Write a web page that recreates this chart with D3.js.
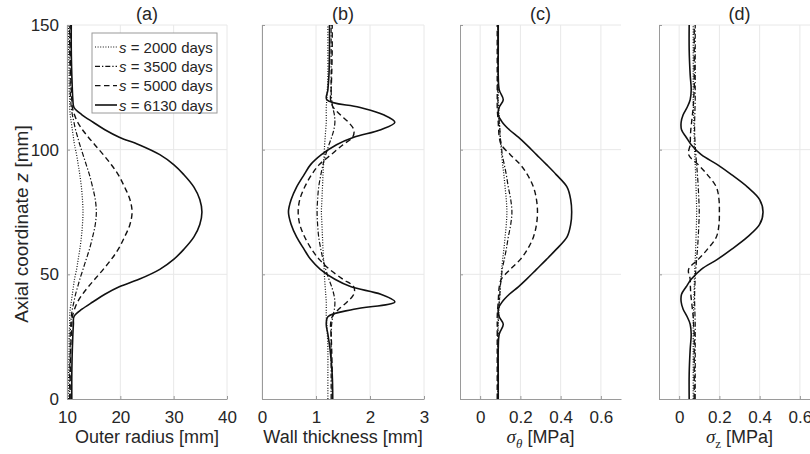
<!DOCTYPE html>
<html>
<head>
<meta charset="utf-8">
<script src="https://cdn.jsdelivr.net/npm/d3@7"></script>
<style>
  html, body { margin: 0; padding: 0; background: #fff; }
  svg { display: block; font-family: "Liberation Sans", Arial, Helvetica, sans-serif; }
</style>
</head>
<body>
<svg id="chart" width="810" height="454"></svg>
<script>
// ---------------- data ----------------
const zPts = [0,10,20,26,30,33,36,39,42,45,48,52,56,60,65,70,75,80,85,90,94,98,102,105,108,111,114,117,120,124,130,140,150];

const seriesNames = ["2000", "3500", "5000", "6130"];

// (a) outer radius [mm]
const radius2000 = [10.3,10.3,10.4,10.4,10.5,10.5,10.6,10.8,11.0,11.2,11.4,11.8,12.1,12.4,12.7,12.9,13.0,12.9,12.7,12.4,12.1,11.8,11.4,11.2,11.0,10.8,10.6,10.5,10.5,10.4,10.4,10.3,10.3];
const radius3500 = [10.5,10.5,10.6,10.6,10.7,10.8,11.0,11.3,11.6,12.0,12.4,13.0,13.6,14.2,14.8,15.3,15.5,15.3,14.8,14.2,13.6,13.0,12.4,12.0,11.6,11.3,11.0,10.8,10.7,10.6,10.6,10.5,10.5];
const radius5000 = [10.6,10.6,10.7,10.8,10.9,11.0,11.4,12.0,12.9,14.0,15.2,16.8,18.3,19.6,20.8,21.8,22.2,21.8,20.8,19.6,18.3,16.8,15.2,14.0,12.9,12.0,11.4,11.0,10.9,10.8,10.7,10.6,10.6];
const radius6130 = [10.9,10.9,11.0,11.1,11.2,11.3,12.8,14.9,17.1,19.8,23.5,27.4,30.0,31.9,33.8,34.9,35.3,34.9,33.8,31.9,30.0,27.4,23.5,19.8,17.1,14.9,12.8,11.3,11.1,11.0,10.9,10.8,10.8];

// (b) wall thickness [mm]
const thick2000 = [1.22,1.22,1.22,1.21,1.20,1.19,1.19,1.19,1.18,1.17,1.16,1.15,1.14,1.13,1.12,1.11,1.10,1.11,1.12,1.13,1.14,1.15,1.16,1.17,1.18,1.19,1.19,1.19,1.20,1.21,1.22,1.22,1.22];
const thick3500 = [1.28,1.28,1.28,1.28,1.29,1.31,1.34,1.35,1.33,1.29,1.24,1.18,1.13,1.09,1.05,1.03,1.02,1.03,1.05,1.09,1.13,1.18,1.24,1.29,1.33,1.35,1.34,1.31,1.29,1.28,1.28,1.28,1.28];
const thick5000 = [1.30,1.30,1.29,1.28,1.27,1.30,1.42,1.58,1.70,1.70,1.50,1.25,1.06,0.92,0.79,0.70,0.67,0.70,0.79,0.92,1.06,1.28,1.50,1.68,1.70,1.60,1.45,1.32,1.27,1.28,1.29,1.30,1.30];
const thick6130 = [1.31,1.30,1.26,1.22,1.19,1.22,1.70,2.46,2.20,1.65,1.35,1.08,0.90,0.78,0.64,0.54,0.49,0.54,0.64,0.78,0.90,1.10,1.38,1.70,2.20,2.46,2.25,1.80,1.20,1.22,1.24,1.25,1.25];

// (c) sigma_theta [MPa]
const sigT2000 = [0.09,0.09,0.09,0.09,0.09,0.092,0.094,0.096,0.098,0.10,0.103,0.107,0.112,0.118,0.124,0.13,0.133,0.13,0.124,0.118,0.112,0.107,0.103,0.10,0.098,0.096,0.094,0.092,0.09,0.09,0.09,0.09,0.09];
const sigT3500 = [0.088,0.088,0.088,0.088,0.088,0.09,0.092,0.095,0.098,0.10,0.105,0.11,0.12,0.13,0.14,0.152,0.158,0.152,0.14,0.13,0.12,0.11,0.105,0.10,0.098,0.095,0.092,0.09,0.088,0.088,0.088,0.088,0.088];
const sigT5000 = [0.085,0.085,0.085,0.085,0.085,0.085,0.087,0.09,0.092,0.095,0.105,0.15,0.20,0.235,0.265,0.28,0.285,0.28,0.265,0.235,0.20,0.15,0.105,0.095,0.092,0.09,0.087,0.085,0.085,0.085,0.085,0.085,0.085];
const sigT6130 = [0.09,0.09,0.09,0.095,0.115,0.095,0.09,0.11,0.145,0.19,0.23,0.28,0.33,0.378,0.432,0.45,0.455,0.45,0.432,0.378,0.33,0.28,0.23,0.19,0.145,0.11,0.09,0.095,0.115,0.095,0.09,0.09,0.09];

// (d) sigma_z [MPa]
const sigZ2000 = [0.07,0.07,0.07,0.07,0.07,0.071,0.072,0.073,0.074,0.075,0.076,0.078,0.08,0.082,0.084,0.086,0.087,0.086,0.084,0.082,0.08,0.078,0.076,0.075,0.074,0.073,0.072,0.071,0.07,0.07,0.07,0.07,0.07];
const sigZ3500 = [0.08,0.08,0.08,0.08,0.08,0.079,0.078,0.077,0.077,0.078,0.08,0.083,0.087,0.091,0.095,0.098,0.10,0.098,0.095,0.091,0.087,0.083,0.08,0.078,0.077,0.077,0.078,0.079,0.08,0.08,0.08,0.08,0.08];
const sigZ5000 = [0.075,0.075,0.075,0.075,0.072,0.07,0.066,0.062,0.058,0.056,0.055,0.047,0.095,0.14,0.185,0.198,0.20,0.198,0.185,0.14,0.095,0.047,0.055,0.056,0.058,0.062,0.066,0.07,0.072,0.075,0.075,0.075,0.075];
const sigZ6130 = [0.05,0.05,0.055,0.06,0.055,0.04,0.02,0.01,0.012,0.035,0.06,0.11,0.19,0.26,0.34,0.40,0.417,0.40,0.34,0.26,0.19,0.11,0.06,0.035,0.012,0.01,0.02,0.04,0.055,0.06,0.055,0.05,0.05];

// tick values
const yTicks = [0, 50, 100, 150];
const xTicksA = [10, 20, 30, 40];
const xTicksB = [0, 1, 2, 3];
const xTicksC = [0, 0.2, 0.4, 0.6];
const xTicksD = [0, 0.2, 0.4, 0.6];

// ---------------- styles ----------------
const dashFor = {
  "2000": "1,1.6",
  "3500": "5,2,1.3,2",
  "5000": "5.5,3.5",
  "6130": null
};
const widthFor = { "2000": 1.2, "3500": 1.2, "5000": 1.4, "6130": 1.6 };

const svg = d3.select("#chart");
const axisColor = "#9a9a9a";
const gridColor = "#e8e8e8";
const textColor = "#262626";

const yTop = 25, yBot = 399;
const y = d3.scaleLinear().domain([0, 150]).range([yBot, yTop]);

const panels = [
  { id: "a", title: "(a)", domain: [10, 40], range: [67, 227], ticks: xTicksA, fmt: d3.format("d"),
    data: [radius2000, radius3500, radius5000, radius6130], showY: true, label: "Outer radius [mm]" },
  { id: "b", title: "(b)", domain: [0, 3], range: [262, 424], ticks: xTicksB, fmt: d3.format("d"),
    data: [thick2000, thick3500, thick5000, thick6130], showY: false, label: "Wall thickness [mm]" },
  { id: "c", title: "(c)", domain: [-0.1, 0.7], range: [460, 621], ticks: xTicksC, fmt: v => v === 0 ? "0" : d3.format(".1f")(v),
    data: [sigT2000, sigT3500, sigT5000, sigT6130], showY: false, label: "sigma", sub: "θ" },
  { id: "d", title: "(d)", domain: [-0.1, 0.7], range: [659, 820], ticks: xTicksD, fmt: v => v === 0 ? "0" : d3.format(".1f")(v),
    data: [sigZ2000, sigZ3500, sigZ5000, sigZ6130], showY: false, label: "sigma", sub: "z" }
];

panels.forEach(p => {
  const x = d3.scaleLinear().domain(p.domain).range(p.range);
  const g = svg.append("g");

  // grid
  g.append("g").selectAll("line.gx").data(p.ticks).join("line")
    .attr("x1", d => x(d)).attr("x2", d => x(d))
    .attr("y1", yBot).attr("y2", yTop)
    .attr("stroke", gridColor).attr("stroke-width", 1);
  g.append("g").selectAll("line.gy").data(yTicks.filter(v => v > 0)).join("line")
    .attr("x1", p.range[0]).attr("x2", p.range[1])
    .attr("y1", d => y(d)).attr("y2", d => y(d))
    .attr("stroke", gridColor).attr("stroke-width", 1);

  // data lines
  const line = d3.line()
    .x(d => x(d[1]))
    .y(d => y(d[0]))
    .curve(d3.curveCatmullRom.alpha(0.5));
  p.data.forEach((vals, i) => {
    const name = seriesNames[i];
    const pts = zPts.map((z, k) => [z, vals[k]]);
    g.append("path")
      .attr("d", line(pts))
      .attr("fill", "none")
      .attr("stroke", "#111")
      .attr("stroke-width", widthFor[name])
      .attr("stroke-dasharray", dashFor[name]);
  });

  // x axis
  const xAxis = d3.axisBottom(x).tickValues(p.ticks).tickSizeInner(-3).tickSizeOuter(0)
    .tickPadding(0).tickFormat(p.fmt);
  const gx = g.append("g").attr("transform", `translate(0,${yBot})`).call(xAxis);
  gx.select(".domain").attr("stroke", axisColor);
  gx.selectAll(".tick line").attr("stroke", axisColor);
  gx.selectAll(".tick text")
    .attr("fill", textColor).attr("font-size", 17)
    .attr("dy", null).attr("y", 24)
    .attr("font-family", '"Liberation Sans", Arial, sans-serif');

  // y axis
  const yAxis = d3.axisLeft(y).tickValues(yTicks).tickSizeInner(-3).tickSizeOuter(0)
    .tickPadding(8).tickFormat(p.showY ? d3.format("d") : () => "");
  const gy = g.append("g").attr("transform", `translate(${p.range[0]},0)`).call(yAxis);
  gy.select(".domain").attr("stroke", axisColor);
  gy.selectAll(".tick line").attr("stroke", axisColor);
  gy.selectAll(".tick text")
    .attr("fill", textColor).attr("font-size", 17)
    .attr("font-family", '"Liberation Sans", Arial, sans-serif');

  // title
  g.append("text")
    .attr("x", (p.range[0] + p.range[1]) / 2).attr("y", 20)
    .attr("text-anchor", "middle").attr("font-size", 18).attr("fill", textColor)
    .text(p.title);

  // x label
  const cx = (p.range[0] + p.range[1]) / 2;
  const lab = g.append("text")
    .attr("x", cx).attr("y", 443)
    .attr("text-anchor", "middle").attr("font-size", 18).attr("fill", textColor);
  if (p.label === "sigma") {
    lab.append("tspan").attr("font-family", '"Liberation Serif", "DejaVu Serif", serif')
      .attr("font-style", "italic").attr("font-size", 19).text("σ");
    lab.append("tspan").attr("font-family", '"Liberation Serif", "DejaVu Serif", serif')
      .attr("font-style", p.sub === "θ" ? "italic" : "normal").attr("font-size", 13)
      .attr("dy", 5).text(p.sub);
    lab.append("tspan").attr("dy", -5).text(" [MPa]");
  } else {
    lab.text(p.label);
  }
});

// y label
const yl = svg.append("text")
  .attr("transform", "translate(28,224) rotate(-90)")
  .attr("text-anchor", "middle").attr("font-size", 19).attr("fill", textColor);
yl.append("tspan").text("Axial coordinate ");
yl.append("tspan").attr("font-style", "italic").text("z");
yl.append("tspan").text(" [mm]");

// legend
const legX = 92, legY = 33, legW = 125, legH = 80;
const leg = svg.append("g");
leg.append("rect").attr("x", legX).attr("y", legY).attr("width", legW).attr("height", legH)
  .attr("fill", "#fff").attr("stroke", axisColor).attr("stroke-width", 1);
const legRowY = d3.scalePoint().domain(seriesNames).range([47, 105]);
seriesNames.forEach(name => {
  const yy = legRowY(name);
  leg.append("line").attr("x1", 95).attr("x2", 117).attr("y1", yy).attr("y2", yy)
    .attr("stroke", "#111").attr("stroke-width", widthFor[name])
    .attr("stroke-dasharray", dashFor[name]);
  const t = leg.append("text").attr("x", 119).attr("y", yy + 5.5)
    .attr("font-size", 15).attr("fill", textColor);
  t.append("tspan").attr("font-style", "italic").text("s");
  t.append("tspan").text(` = ${name} days`);
});
</script>
</body>
</html>
